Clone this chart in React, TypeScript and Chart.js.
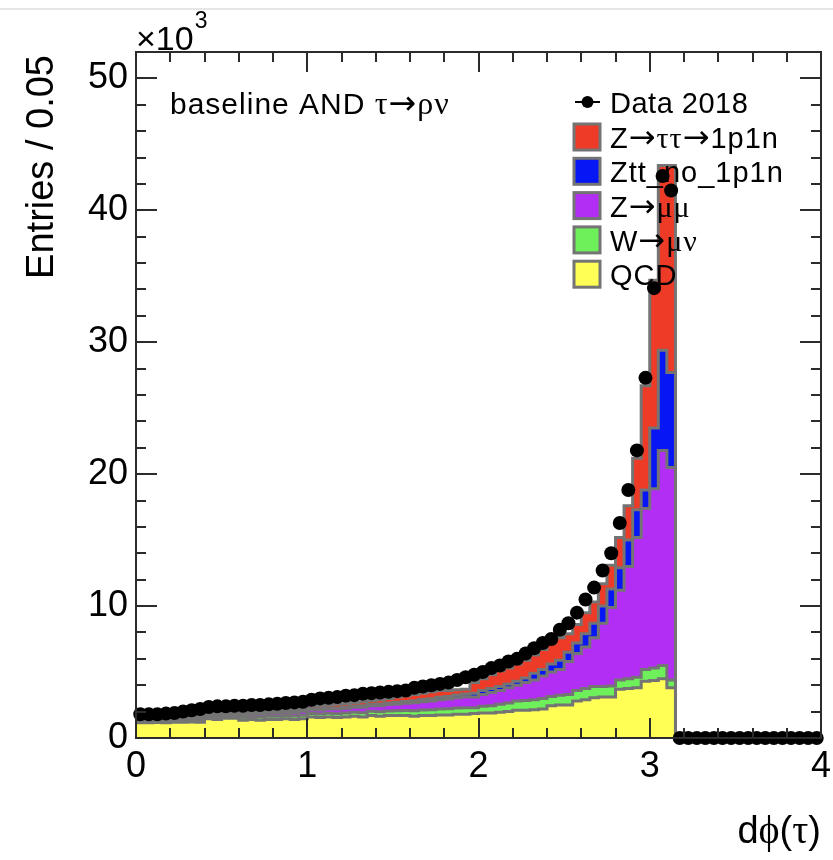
import React, { useEffect, useRef } from "react";
import { Chart, registerables } from "chart.js";

Chart.register(...registerables);

// Histogram binning: 80 bins of width 0.05 on dphi(tau) in [0, 4]
const BIN_WIDTH = 0.05;
const X_MIN = 0;
const X_MAX = 4;
const Y_MAX = 52; // entries in units of 10^3

// Values in units of 10^3 entries per bin
const data2018 = [
  1.8, 1.8, 1.8, 1.85, 1.9, 2.0, 2.1, 2.2, 2.35, 2.4,
  2.4, 2.45, 2.45, 2.5, 2.5, 2.55, 2.6, 2.65, 2.7, 2.75,
  2.9, 3.0, 3.05, 3.1, 3.2, 3.25, 3.35, 3.4, 3.45, 3.5,
  3.55, 3.6, 3.8, 3.9, 4.0, 4.1, 4.2, 4.4, 4.6, 4.8,
  5.0, 5.3, 5.5, 5.8, 6.0, 6.4, 6.8, 7.2, 7.5, 8.2,
  8.7, 9.5, 10.5, 11.4, 12.7, 14.0, 16.3, 18.8, 21.8, 27.3,
  34.1, 42.6, 41.5,
  0, 0, 0, 0, 0, 0, 0, 0, 0, 0, 0, 0, 0, 0, 0, 0, 0,
];

const qcd = [
  1.15, 1.15, 1.18, 1.15, 1.2, 1.2, 1.22, 1.2, 1.45, 1.4,
  1.5, 1.5, 1.35, 1.4, 1.35, 1.4, 1.4, 1.45, 1.4, 1.45,
  1.6, 1.55, 1.6, 1.55, 1.6, 1.65, 1.6, 1.7, 1.65, 1.7,
  1.7, 1.7, 1.65, 1.7, 1.7, 1.75, 1.75, 1.8, 1.8, 1.85,
  1.9, 1.9, 1.95, 2.0, 2.1, 2.1, 2.15, 2.2, 2.45, 2.5,
  2.5, 2.8, 2.9, 3.05, 3.1, 3.1, 3.7, 3.75, 3.8, 4.3,
  4.35, 4.5, 3.8,
  0, 0, 0, 0, 0, 0, 0, 0, 0, 0, 0, 0, 0, 0, 0, 0, 0,
];

const wMuNu = [
  0.12, 0.12, 0.12, 0.13, 0.13, 0.14, 0.15, 0.17, 0.15, 0.17,
  0.15, 0.17, 0.22, 0.22, 0.24, 0.24, 0.25, 0.25, 0.26, 0.27,
  0.25, 0.27, 0.27, 0.29, 0.29, 0.3, 0.32, 0.32, 0.34, 0.35,
  0.36, 0.38, 0.42, 0.42, 0.44, 0.45, 0.47, 0.48, 0.5, 0.45,
  0.5, 0.55, 0.6, 0.65, 0.7, 0.75, 0.75, 0.8, 0.7, 0.75,
  0.8, 0.8, 0.85, 0.85, 0.8, 0.85, 0.7, 0.75, 0.8, 0.9,
  0.95, 1.0, 0.6,
  0, 0, 0, 0, 0, 0, 0, 0, 0, 0, 0, 0, 0, 0, 0, 0, 0,
];

const zMuMu = [
  0.1, 0.1, 0.11, 0.12, 0.12, 0.14, 0.15, 0.17, 0.15, 0.17,
  0.15, 0.17, 0.2, 0.21, 0.22, 0.23, 0.25, 0.26, 0.28, 0.3,
  0.28, 0.31, 0.32, 0.35, 0.36, 0.38, 0.42, 0.43, 0.46, 0.48,
  0.52, 0.55, 0.6, 0.63, 0.67, 0.7, 0.74, 0.78, 0.82, 0.8,
  0.9, 1.0, 1.05, 1.15, 1.2, 1.35, 1.5, 1.7, 1.85, 1.95,
  2.5, 2.8, 3.15, 3.7, 4.8, 5.95, 6.8, 8.5, 10.6, 12.2,
  13.6, 16.3, 16.1,
  0, 0, 0, 0, 0, 0, 0, 0, 0, 0, 0, 0, 0, 0, 0, 0, 0,
];

const zttNo1p1n = [
  0.04, 0.04, 0.04, 0.05, 0.05, 0.05, 0.05, 0.06, 0.05, 0.06,
  0.05, 0.06, 0.06, 0.06, 0.07, 0.07, 0.07, 0.07, 0.08, 0.08,
  0.07, 0.08, 0.08, 0.09, 0.09, 0.1, 0.11, 0.11, 0.12, 0.12,
  0.13, 0.14, 0.15, 0.16, 0.17, 0.18, 0.19, 0.2, 0.21, 0.3,
  0.3, 0.3, 0.3, 0.3, 0.3, 0.35, 0.5, 0.5, 0.6, 0.7,
  0.7, 0.8, 1.0, 1.1, 1.3, 1.4, 1.7, 2.0, 2.1, 1.4,
  4.6, 7.6, 7.2,
  0, 0, 0, 0, 0, 0, 0, 0, 0, 0, 0, 0, 0, 0, 0, 0, 0,
];

const ztt1p1n = [
  0.09, 0.09, 0.1, 0.1, 0.1, 0.12, 0.13, 0.15, 0.15, 0.15,
  0.15, 0.15, 0.17, 0.16, 0.17, 0.16, 0.18, 0.17, 0.18, 0.2,
  0.2, 0.24, 0.23, 0.27, 0.26, 0.27, 0.3, 0.29, 0.33, 0.35,
  0.39, 0.43, 0.48, 0.49, 0.52, 0.52, 0.45, 0.39, 0.37, 0.8,
  0.9, 1.05, 1.2, 1.2, 1.3, 1.35, 1.4, 1.5, 1.6, 1.7,
  1.4, 1.4, 1.6, 1.6, 1.7, 1.8, 2.3, 2.6, 3.9, 7.9,
  11.2, 14.0, 15.7,
  0, 0, 0, 0, 0, 0, 0, 0, 0, 0, 0, 0, 0, 0, 0, 0, 0,
];

const xTicks = [0, 1, 2, 3, 4];
const yTicks = [0, 10, 20, 30, 40, 50];
const X_MINOR_STEP = 0.2;
const Y_MINOR_STEP = 2;

const COLOR_RED = "#ee3b27";
const COLOR_BLUE = "#0616f4";
const COLOR_PURPLE = "#b22ef4";
const COLOR_GREEN = "#6ef05a";
const COLOR_YELLOW = "#ffff55";
const COLOR_OUTLINE = "#747474";
const COLOR_FRAME = "#2b2b2b";

// stacked bottom -> top
const mcSamples = [
  { label: "QCD", values: qcd, color: COLOR_YELLOW },
  { label: "W→μν", values: wMuNu, color: COLOR_GREEN },
  { label: "Z→μμ", values: zMuMu, color: COLOR_PURPLE },
  { label: "Ztt_no_1p1n", values: zttNo1p1n, color: COLOR_BLUE },
  { label: "Z→ττ→1p1n", values: ztt1p1n, color: COLOR_RED },
];

const SANS = "'Liberation Sans', Arial, Helvetica, sans-serif";
const SERIF = "'Liberation Serif', 'DejaVu Serif', serif";
const ARROW = "'DejaVu Sans', sans-serif";

type Kind = "sans" | "greek" | "arrow";
function kindOf(ch: string): Kind {
  if (/[\u2190-\u21FF]/.test(ch)) return "arrow";
  if (/[\u0370-\u03FF]/.test(ch)) return "greek";
  return "sans";
}
function fontOf(kind: Kind, size: number) {
  if (kind === "greek") return `${Math.round(size * 1.05)}px ${SERIF}`;
  if (kind === "arrow") return `${Math.round(size * 1.1)}px ${ARROW}`;
  return `${size}px ${SANS}`;
}

function splitRuns(text: string) {
  const runs: { t: string; kind: Kind }[] = [];
  for (const ch of Array.from(text)) {
    const kind = kindOf(ch);
    const last = runs[runs.length - 1];
    if (last && last.kind === kind) last.t += ch;
    else runs.push({ t: ch, kind });
  }
  return runs;
}

function drawMixed(
  ctx: CanvasRenderingContext2D,
  text: string,
  x: number,
  y: number,
  size: number,
  align: "left" | "right" | "center" = "left",
  spacing = 0
) {
  const c: any = ctx;
  c.letterSpacing = `${spacing}px`;
  const runs = splitRuns(text);
  const widths = runs.map((r) => {
    ctx.font = fontOf(r.kind, size);
    return ctx.measureText(r.t).width;
  });
  const total = widths.reduce((a, b) => a + b, 0);
  let cx = align === "right" ? x - total : align === "center" ? x - total / 2 : x;
  ctx.textAlign = "left";
  ctx.textBaseline = "alphabetic";
  runs.forEach((r, i) => {
    ctx.font = fontOf(r.kind, size);
    ctx.fillText(r.t, cx, y);
    cx += widths[i];
  });
  c.letterSpacing = "0px";
}

const rootStylePlugin = {
  id: "rootStyle",
  afterDraw(chart: any) {
    const { ctx, chartArea: a, scales } = chart;
    const xs = scales.x;
    const ys = scales.y;
    ctx.save();

    // faint page rule at top
    ctx.fillStyle = "#e6e6e6";
    ctx.fillRect(0, 8, chart.width, 2);

    // frame
    ctx.strokeStyle = COLOR_FRAME;
    ctx.lineWidth = 2;
    ctx.strokeRect(a.left, a.top, a.right - a.left, a.bottom - a.top);

    const seg = (x1: number, y1: number, x2: number, y2: number) => {
      ctx.beginPath();
      ctx.moveTo(x1, y1);
      ctx.lineTo(x2, y2);
      ctx.stroke();
    };

    // x ticks (bottom and top, pointing inward)
    const nx = Math.round((X_MAX - X_MIN) / X_MINOR_STEP);
    for (let k = 0; k <= nx; k++) {
      const v = X_MIN + k * X_MINOR_STEP;
      const major = xTicks.some((t) => Math.abs(t - v) < 1e-6);
      const len = major ? 20 : 10;
      const px = Math.round(xs.getPixelForValue(v));
      seg(px, a.bottom, px, a.bottom - len);
      seg(px, a.top, px, a.top + len);
    }
    // y ticks (left and right)
    const ny = Math.floor(Y_MAX / Y_MINOR_STEP);
    for (let k = 0; k <= ny; k++) {
      const v = k * Y_MINOR_STEP;
      const major = yTicks.some((t) => Math.abs(t - v) < 1e-6);
      const len = major ? 21 : 10;
      const py = Math.round(ys.getPixelForValue(v));
      seg(a.left, py, a.left + len, py);
      seg(a.right, py, a.right - len, py);
    }

    ctx.fillStyle = "#000";
    // ×10^3
    ctx.font = `34px ${SANS}`;
    ctx.textAlign = "left";
    ctx.textBaseline = "alphabetic";
    ctx.fillText("×10", a.left, a.top - 2);
    const w10 = ctx.measureText("×10").width;
    ctx.font = `23px ${SANS}`;
    ctx.fillText("3", a.left + w10 + 1, a.top - 24);

    // y title (rotated)
    ctx.save();
    ctx.translate(53, 55);
    ctx.rotate(-Math.PI / 2);
    ctx.font = `38px ${SANS}`;
    ctx.textAlign = "right";
    ctx.fillText("Entries / 0.05", 0, 0);
    ctx.restore();

    // x title
    drawMixed(ctx, "dϕ(τ)", a.right, 843, 38, "right");

    // selection label
    drawMixed(ctx, "baseline AND τ→ρν", 170, 114, 30, "left", 1);

    // legend
    const lx = 574;
    const textX = 610;
    const dataRowY = 102;
    ctx.strokeStyle = "#000";
    ctx.lineWidth = 2;
    seg(lx + 1, dataRowY, lx + 26, dataRowY);
    ctx.beginPath();
    ctx.arc(lx + 13.5, dataRowY, 6, 0, Math.PI * 2);
    ctx.fillStyle = "#000";
    ctx.fill();
    drawMixed(ctx, "Data 2018", textX, dataRowY + 11, 29, "left", 0.5);

    const rows = [...mcSamples].reverse();
    rows.forEach((s, i) => {
      const cy = 137 + i * 34.3;
      ctx.fillStyle = s.color;
      ctx.fillRect(lx, cy - 13, 26, 26);
      ctx.strokeStyle = COLOR_OUTLINE;
      ctx.lineWidth = 3;
      ctx.strokeRect(lx, cy - 13, 26, 26);
      ctx.fillStyle = "#000";
      drawMixed(ctx, s.label, textX, cy + 11, 29, "left", 1);
    });

    ctx.restore();
  },
};

export default function App() {
  const canvasRef = useRef<HTMLCanvasElement>(null);

  useEffect(() => {
    const canvas = canvasRef.current;
    if (!canvas) return;
    const nBins = data2018.length;
    const edges = Array.from({ length: nBins + 1 }, (_, i) => Math.round(i * BIN_WIDTH * 1000) / 1000);
    const toSteps = (vals: number[]) =>
      edges.map((x, i) => ({ x, y: vals[Math.min(i, nBins - 1)] }));
    const dataPoints = data2018.map((v, i) => ({ x: edges[i] + BIN_WIDTH / 2, y: v }));

    const datasets: any[] = [
      {
        type: "line",
        label: "Data 2018",
        data: dataPoints,
        showLine: false,
        pointRadius: 7,
        pointHoverRadius: 7,
        pointBackgroundColor: "#000",
        pointBorderWidth: 0,
        pointBorderColor: "#000",
        stack: "data",
        order: 0,
        clip: false,
      },
      ...mcSamples.map((s, k) => ({
        type: "line",
        label: s.label,
        data: toSteps(s.values),
        stepped: "before",
        fill: k === 0 ? "origin" : "-1",
        backgroundColor: s.color,
        borderColor: COLOR_OUTLINE,
        borderWidth: 3,
        pointRadius: 0,
        stack: "mc",
        order: 1,
        tension: 0,
      })),
    ];

    const tickFont = { family: SANS, size: 36, lineHeight: 1 };

    const chart = new Chart(canvas, {
      type: "line",
      data: { datasets },
      plugins: [rootStylePlugin],
      options: {
        animation: false,
        responsive: false,
        devicePixelRatio: 1,
        events: [],
        layout: { padding: { top: 52, right: 12, left: 0, bottom: 0 } },
        plugins: { legend: { display: false }, tooltip: { enabled: false } },
        scales: {
          x: {
            type: "linear",
            min: X_MIN,
            max: X_MAX,
            grid: { display: false, drawTicks: false },
            border: { display: false },
            afterBuildTicks: (s: any) => {
              s.ticks = xTicks.map((v) => ({ value: v }));
            },
            afterFit: (s: any) => {
              s.height = 122;
              s.paddingLeft = 0;
              s.paddingRight = 0;
            },
            ticks: {
              font: tickFont,
              color: "#000",
              padding: 11,
              autoSkip: false,
              maxRotation: 0,
              callback: (v: any) => String(v),
            },
          },
          y: {
            type: "linear",
            stacked: true,
            min: 0,
            max: Y_MAX,
            grid: { display: false, drawTicks: false },
            border: { display: false },
            afterBuildTicks: (s: any) => {
              s.ticks = yTicks.map((v) => ({ value: v }));
            },
            afterFit: (s: any) => {
              s.width = 136;
              s.paddingTop = 0;
              s.paddingBottom = 0;
            },
            ticks: {
              font: tickFont,
              color: "#000",
              padding: 8,
              autoSkip: false,
              callback: (v: any) => String(v),
            },
          },
        },
      } as any,
    });

    return () => chart.destroy();
  }, []);

  return (
    <div style={{ position: "absolute", left: 0, top: 0, width: 833, height: 860, background: "#fff" }}>
      <canvas ref={canvasRef} width={833} height={860} style={{ display: "block" }} />
    </div>
  );
}
